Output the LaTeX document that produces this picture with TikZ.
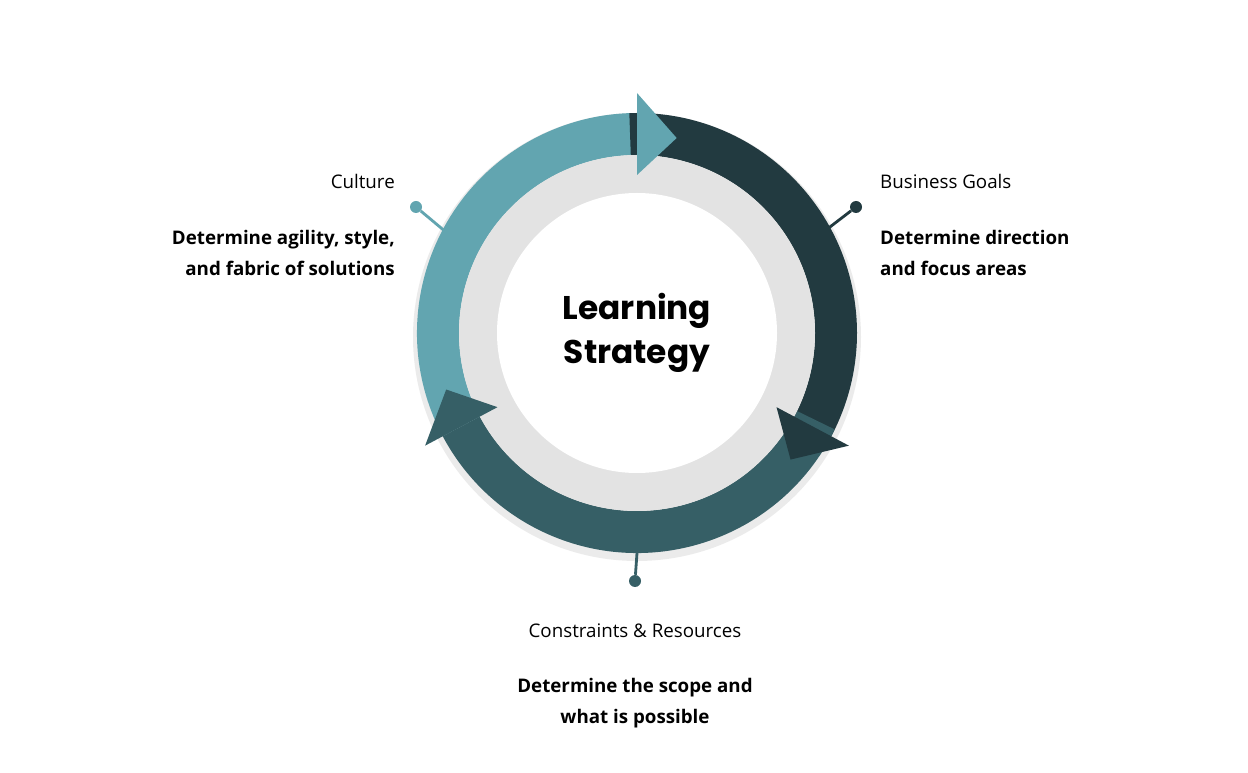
\documentclass[tikz,border=0pt]{standalone}
\usepackage{fontspec}
\setmainfont{Open Sans}
\newfontfamily\headfont{Poppins}
\definecolor{teal}{HTML}{62A5B0}
\definecolor{darkc}{HTML}{223A40}
\definecolor{midc}{HTML}{365F66}
\definecolor{ringgray}{HTML}{E3E3E3}
\begin{document}
\begin{tikzpicture}[x=0.03cm,y=0.03cm,
  lbl/.style={font=\fontsize{16}{20}\selectfont,inner sep=0pt},
  bld/.style={font=\fontsize{16}{26}\selectfont\bfseries,inner sep=0pt},
  dot/.style={circle,fill=#1,minimum size=12*0.03cm,inner sep=0pt},
  conn/.style={draw=#1,line width=2.4pt}]
\useasboundingbox (0,0) rectangle (1248,772);
\def\seg#1#2#3{\fill[#3] (#1:220) arc(#1:#2:220) -- (#2:178) arc(#2:#1:178) -- cycle;}
\def\head#1#2{\fill[#2] (#1:158) -- (#1:240) -- (#1-11.5:199) -- cycle;}
\begin{scope}[shift={(637,439)}]
\fill[black!8] (0,-4) circle (224);
\seg{208}{90}{teal}
\seg{92}{-28}{darkc}
\seg{-26}{-152}{midc}
\fill[ringgray] (0,0) circle (178);
\fill[white] (0,0) circle (140);
\head{90}{teal}
\head{-28}{darkc}
\head{-152}{midc}
\coordinate (cA) at (153:202);
\coordinate (cB) at (28:202);
\coordinate (cC) at (-90:220);
\end{scope}
\node[font=\headfont\fontsize{28}{38}\selectfont\bfseries,align=center] (center) at (637,439) {Learning\\Strategy};
\node[dot=teal] (dA) at (416,565) {};
\node[dot=darkc] (dB) at (856,565) {};
\node[dot=midc] (dC) at (635,191) {};
\draw[conn=teal] (dA) -- (cA);
\draw[conn=darkc] (dB) -- (cB);
\draw[conn=midc] (dC) -- (cC);
\node[lbl,anchor=east] (t1) at (395,591) {Culture};
\node[bld,anchor=east,align=right] (b1) at (395,519) {Determine agility, style,\\and fabric of solutions};
\node[lbl,anchor=west] (t2) at (880,591) {Business Goals};
\node[bld,anchor=west,align=left] (b2) at (880,519) {Determine direction\\and focus areas};
\node[lbl] (t3) at (635,141) {Constraints \& Resources};
\node[bld,align=center] (b3) at (635,69) {Determine the scope and\\what is possible};
\end{tikzpicture}
\end{document}
